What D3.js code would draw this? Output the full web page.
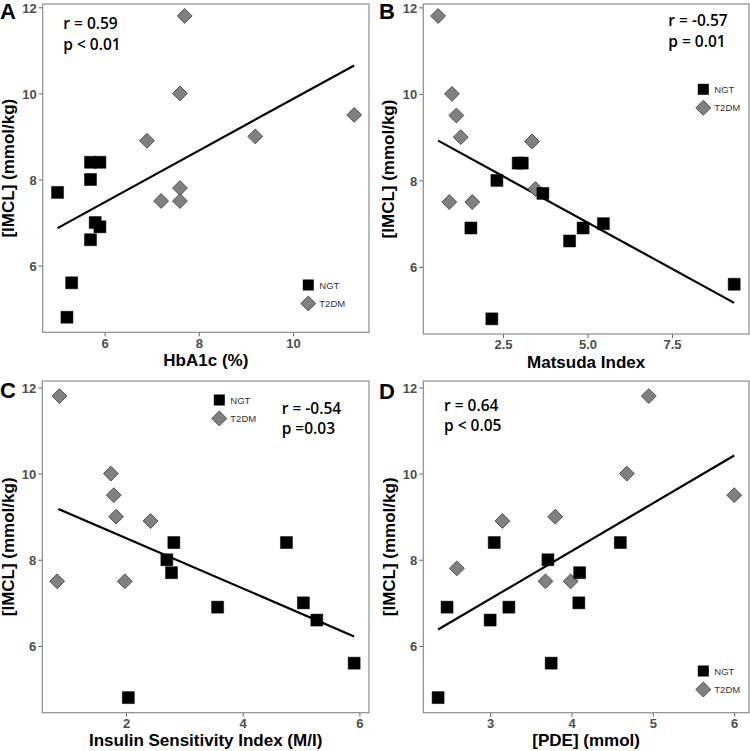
<!DOCTYPE html>
<html><head><meta charset="utf-8">
<script src="https://cdn.jsdelivr.net/npm/d3@7"></script>
<style>body{margin:0;background:#fff}svg{display:block}</style>
</head><body>
<script>
// ---------- data ----------
const groups = ["NGT", "T2DM"];
const yTicks = [6, 8, 10, 12];

// Panel A: HbA1c (%)
const aNgtX = [5.0, 5.7, 5.7, 5.9, 5.8, 5.9, 5.7, 5.3, 5.2];
const aNgtY = [7.7, 8.0, 8.4, 8.4, 7.0, 6.9, 6.6, 5.6, 4.8];
const aT2dmX = [7.7, 7.6, 11.3, 9.2, 6.9, 7.6, 7.2, 7.6];
const aT2dmY = [11.8, 10.0, 9.5, 9.0, 8.9, 7.8, 7.5, 7.5];
const aFitX = [5.0, 11.3];
const aFitY = [6.87, 10.65];
const aXTicks = [6, 8, 10];

// Panel B: Matsuda Index
const bNgtX = [2.32, 2.95, 3.07, 3.68, 1.55, 4.47, 4.87, 5.47, 9.34, 2.17];
const bNgtY = [8.0, 8.4, 8.4, 7.7, 6.9, 6.6, 6.9, 7.0, 5.6, 4.8];
const bT2dmX = [0.58, 0.99, 1.12, 1.25, 3.36, 3.46, 0.91, 1.59];
const bT2dmY = [11.8, 10.0, 9.5, 9.0, 8.9, 7.8, 7.5, 7.5];
const bFitX = [0.58, 9.34];
const bFitY = [8.92, 5.17];
const bXTicks = [2.5, 5.0, 7.5];

// Panel C: Insulin Sensitivity Index (M/I)
const cNgtX = [2.70, 2.82, 2.78, 3.57, 4.75, 5.04, 5.27, 5.91, 2.04];
const cNgtY = [8.0, 8.4, 7.7, 6.9, 8.4, 7.0, 6.6, 5.6, 4.8];
const cT2dmX = [0.86, 1.74, 1.79, 1.83, 2.42, 0.82, 1.98];
const cT2dmY = [11.8, 10.0, 9.5, 9.0, 8.9, 7.5, 7.5];
const cFitX = [0.84, 5.91];
const cFitY = [9.18, 6.22];
const cXTicks = [2, 4, 6];

// Panel D: [PDE] (mmol)
const dNgtX = [2.36, 2.47, 3.0, 3.05, 3.23, 3.71, 3.75, 4.10, 4.09, 4.60];
const dNgtY = [4.8, 6.9, 6.6, 8.4, 6.9, 8.0, 5.6, 7.7, 7.0, 8.4];
const dT2dmX = [4.95, 4.68, 6.0, 3.80, 3.15, 2.59, 3.68, 3.99];
const dT2dmY = [11.8, 10.0, 9.5, 9.0, 8.9, 7.8, 7.5, 7.5];
const dFitX = [2.36, 6.0];
const dFitY = [6.38, 10.42];
const dXTicks = [3, 4, 5, 6];

// ---------- layout ----------
const panels = [
  {letter:"A", ngtX:aNgtX, ngtY:aNgtY, t2X:aT2dmX, t2Y:aT2dmY, fitX:aFitX, fitY:aFitY, xTicks:aXTicks, fmt:d3.format("d"),
   xTitle:"HbA1c (%)", stats:["r = 0.59","p < 0.01"],
   box:{l:42.7, r:369, t:4, b:332.3}, yTop:12.077, letterPos:[0,19], statPos:[63.3,29.3], legendPos:[308.3,285],
   xTitleY:366, yTitleX:14},
  {letter:"B", ngtX:bNgtX, ngtY:bNgtY, t2X:bT2dmX, t2Y:bT2dmY, fitX:bFitX, fitY:bFitY, xTicks:bXTicks, fmt:d3.format(".1f"),
   xTitle:"Matsuda Index", stats:["r = -0.57","p = 0.01"],
   box:{l:423.3, r:749, t:4, b:334}, yTop:12.077, letterPos:[379,19], statPos:[668.3,26], legendPos:[703.3,89.3],
   xTitleY:368, yTitleX:394},
  {letter:"C", ngtX:cNgtX, ngtY:cNgtY, t2X:cT2dmX, t2Y:cT2dmY, fitX:cFitX, fitY:cFitY, xTicks:cXTicks, fmt:d3.format("d"),
   xTitle:"Insulin Sensitivity Index (M/I)", stats:["r = -0.54","p =0.03"],
   box:{l:42.3, r:369, t:381, b:712.7}, yTop:12.15, letterPos:[0,398], statPos:[281.7,413.5], legendPos:[219.3,400],
   xTitleY:746, yTitleX:14},
  {letter:"D", ngtX:dNgtX, ngtY:dNgtY, t2X:dT2dmX, t2Y:dT2dmY, fitX:dFitX, fitY:dFitY, xTicks:dXTicks, fmt:d3.format("d"),
   xTitle:"[PDE] (mmol)", stats:["r = 0.64","p < 0.05"],
   box:{l:423.3, r:749, t:381, b:712.7}, yTop:12.15, letterPos:[379,399], statPos:[444,410.7], legendPos:[703.3,671],
   xTitleY:746, yTitleX:395}
];

const W = 750, H = 751;
const svg = d3.select("body").append("svg").attr("width", W).attr("height", H);
const sans = "'Liberation Sans', Arial, sans-serif";
const squareSym = d3.symbol(d3.symbolSquare, 144)();
const diamondSym = d3.symbol(d3.symbolSquare, 110)();
const legendSquare = d3.symbol(d3.symbolSquare, 121)();
const legendDiamond = d3.symbol(d3.symbolSquare, 112)();

panels.forEach(p => {
  const g = svg.append("g");
  const allX = p.ngtX.concat(p.t2X);
  const [mn, mx] = d3.extent(allX);
  const pad = (mx - mn) * 0.05;
  const x = d3.scaleLinear().domain([mn - pad, mx + pad]).range([p.box.l, p.box.r]);
  const y = d3.scaleLinear().domain([4.45, p.yTop]).range([p.box.b, p.box.t]);

  // axes
  const xa = g.append("g").attr("transform", `translate(0,${p.box.b})`)
    .call(d3.axisBottom(x).tickValues(p.xTicks).tickFormat(p.fmt).tickSize(4).tickPadding(2));
  const ya = g.append("g").attr("transform", `translate(${p.box.l},0)`)
    .call(d3.axisLeft(y).tickValues(yTicks).tickFormat(d3.format("d")).tickSize(4).tickPadding(2));
  [xa, ya].forEach(a => {
    a.select(".domain").remove();
    a.selectAll(".tick line").attr("stroke", "#666").attr("stroke-width", 1);
    a.selectAll(".tick text").attr("fill", "#4d4d4d").style("font-family", sans)
      .style("font-size", "13px").style("font-weight", "bold");
  });
  ya.selectAll(".tick text").attr("dy", "0.38em");

  // border
  g.append("rect").attr("x", p.box.l).attr("y", p.box.t)
    .attr("width", p.box.r - p.box.l).attr("height", p.box.b - p.box.t)
    .attr("fill", "none").attr("stroke", "#8c8c8c").attr("stroke-width", 1.2);

  // regression line
  g.append("line")
    .attr("x1", x(p.fitX[0])).attr("y1", y(p.fitY[0]))
    .attr("x2", x(p.fitX[1])).attr("y2", y(p.fitY[1]))
    .attr("stroke", "#000").attr("stroke-width", 2.2);

  // T2DM diamonds
  g.selectAll(".t2").data(p.t2X.map((v, i) => [v, p.t2Y[i]])).enter().append("path")
    .attr("d", diamondSym)
    .attr("transform", d => `translate(${x(d[0])},${y(d[1])}) rotate(45)`)
    .attr("fill", "#808080").attr("stroke", "#4a4a4a").attr("stroke-width", 0.9);

  // NGT squares
  g.selectAll(".ngt").data(p.ngtX.map((v, i) => [v, p.ngtY[i]])).enter().append("path")
    .attr("d", squareSym)
    .attr("transform", d => `translate(${x(d[0])},${y(d[1])})`)
    .attr("fill", "#000").attr("stroke", "#000").attr("stroke-width", 0.5);

  // legend
  const [lx, ly] = p.legendPos;
  g.append("path").attr("d", legendSquare).attr("transform", `translate(${lx},${ly})`).attr("fill", "#000");
  g.append("path").attr("d", legendDiamond).attr("transform", `translate(${lx},${ly + 18.5}) rotate(45)`)
    .attr("fill", "#808080").attr("stroke", "#4a4a4a").attr("stroke-width", 0.9);
  groups.forEach((t, i) => {
    g.append("text").attr("x", lx + 11).attr("y", ly + i * 18.5 + 3.5).text(t)
      .attr("fill", "#333").style("font-family", sans).style("font-size", "9.5px");
  });

  // stats text
  p.stats.forEach((s, i) => {
    g.append("text").attr("x", p.statPos[0]).attr("y", p.statPos[1] + i * 20.5).text(s)
      .attr("fill", "#000").style("font-family", "'Open Sans', sans-serif")
      .style("font-size", "15.5px").style("font-weight", 600);
  });

  // axis titles
  g.append("text").attr("x", (p.box.l + p.box.r) / 2).attr("y", p.xTitleY)
    .attr("text-anchor", "middle").text(p.xTitle)
    .style("font-family", sans).style("font-size", "17px").style("font-weight", "bold");
  g.append("text")
    .attr("transform", `translate(${p.yTitleX},${(p.box.t + p.box.b) / 2}) rotate(-90)`)
    .attr("text-anchor", "middle").text("[IMCL] (mmol/kg)")
    .style("font-family", sans).style("font-size", "17px").style("font-weight", "bold");

  // panel letter
  g.append("text").attr("x", p.letterPos[0]).attr("y", p.letterPos[1]).text(p.letter)
    .style("font-family", sans).style("font-size", "22px").style("font-weight", "bold");
});
</script>
</body></html>
